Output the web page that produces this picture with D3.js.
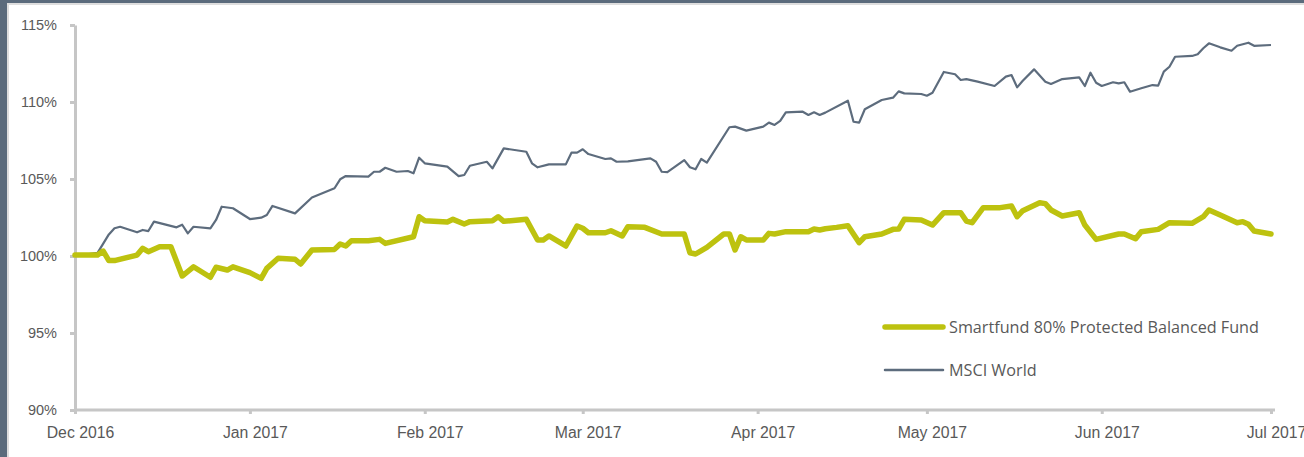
<html>
<head>
<script src="https://d3js.org/d3.v7.min.js"></script>
<style>
  body { margin: 0; background: #fff; }
  svg { display: block; font-family: "Open Sans", sans-serif; }
</style>
</head>
<body>
<script>
// values (index, 100 = start)
const yTicks = [90, 95, 100, 105, 110, 115];
const xTicks = ["2016-12-01", "2017-01-01", "2017-02-01", "2017-03-01", "2017-04-01",
  "2017-05-01", "2017-06-01", "2017-07-01"];
const seriesNames = ["Smartfund 80% Protected Balanced Fund", "MSCI World"];

const msciDates = ["2016-12-01","2016-12-05","2016-12-06","2016-12-07","2016-12-08","2016-12-09",
  "2016-12-12","2016-12-13","2016-12-14","2016-12-15","2016-12-19","2016-12-20","2016-12-21",
  "2016-12-22","2016-12-25","2016-12-26","2016-12-27","2016-12-29","2017-01-01","2017-01-03",
  "2017-01-04","2017-01-05","2017-01-09","2017-01-12","2017-01-16","2017-01-17","2017-01-18",
  "2017-01-22","2017-01-23","2017-01-24","2017-01-25","2017-01-27","2017-01-29","2017-01-30",
  "2017-01-31","2017-02-01","2017-02-05","2017-02-07","2017-02-08","2017-02-09","2017-02-12",
  "2017-02-13","2017-02-15","2017-02-19","2017-02-20","2017-02-21","2017-02-23","2017-02-26",
  "2017-02-27","2017-02-28","2017-03-01","2017-03-02","2017-03-05","2017-03-06","2017-03-07",
  "2017-03-09","2017-03-13","2017-03-14","2017-03-15","2017-03-16","2017-03-19","2017-03-20",
  "2017-03-21","2017-03-22","2017-03-23","2017-03-27","2017-03-28","2017-03-30","2017-04-02",
  "2017-04-03","2017-04-04","2017-04-05","2017-04-06","2017-04-09","2017-04-10","2017-04-11",
  "2017-04-12","2017-04-13","2017-04-17","2017-04-18","2017-04-19","2017-04-20","2017-04-23",
  "2017-04-25","2017-04-26","2017-04-27","2017-04-30","2017-05-01","2017-05-02","2017-05-04",
  "2017-05-06","2017-05-07","2017-05-08","2017-05-10","2017-05-13","2017-05-15","2017-05-16",
  "2017-05-17","2017-05-18","2017-05-20","2017-05-22","2017-05-23","2017-05-25","2017-05-28",
  "2017-05-29","2017-05-30","2017-05-31","2017-06-01","2017-06-03","2017-06-04","2017-06-05",
  "2017-06-06","2017-06-08","2017-06-10","2017-06-11","2017-06-12","2017-06-13","2017-06-14",
  "2017-06-17","2017-06-18","2017-06-19","2017-06-20","2017-06-22","2017-06-24","2017-06-25",
  "2017-06-27","2017-06-28","2017-07-01"];
const msciValues = [100.0,100.2,100.8,101.4,101.8,101.9,
  101.54,101.69,101.62,102.23,101.86,102.03,101.47,
  101.9,101.8,102.34,103.2,103.1,102.4,102.49,
  102.66,103.25,102.77,103.8,104.4,104.98,105.19,
  105.15,105.47,105.47,105.73,105.47,105.52,105.37,
  106.38,106.02,105.8,105.19,105.26,105.86,106.12,
  105.69,106.99,106.77,106.02,105.76,105.95,105.95,
  106.71,106.71,106.93,106.62,106.3,106.34,106.12,
  106.15,106.34,106.12,105.47,105.45,106.23,105.76,
  105.63,106.3,106.06,108.36,108.4,108.14,108.4,
  108.66,108.51,108.77,109.33,109.37,109.16,109.33,
  109.16,109.31,110.08,108.72,108.66,109.53,110.13,
  110.28,110.69,110.56,110.52,110.41,110.6,111.95,
  111.8,111.43,111.49,111.32,111.04,111.65,111.75,
  110.95,111.38,112.12,111.32,111.17,111.49,111.6,
  111.04,111.9,111.25,111.04,111.28,111.21,111.28,
  110.67,110.89,111.1,111.06,111.97,112.29,112.94,
  112.99,113.1,113.49,113.81,113.55,113.33,113.65,
  113.85,113.65,113.7];

const fundDates = ["2016-12-01","2016-12-05","2016-12-06","2016-12-07","2016-12-08","2016-12-12",
  "2016-12-13","2016-12-14","2016-12-16","2016-12-18","2016-12-20","2016-12-22","2016-12-25",
  "2016-12-26","2016-12-28","2016-12-29","2017-01-01","2017-01-03","2017-01-04","2017-01-06",
  "2017-01-09","2017-01-10","2017-01-12","2017-01-16","2017-01-17","2017-01-18","2017-01-19",
  "2017-01-22","2017-01-24","2017-01-25","2017-01-30","2017-01-31","2017-02-01","2017-02-05",
  "2017-02-06","2017-02-08","2017-02-09","2017-02-13","2017-02-14","2017-02-15","2017-02-19",
  "2017-02-21","2017-02-22","2017-02-23","2017-02-26","2017-02-28","2017-03-01","2017-03-02",
  "2017-03-05","2017-03-06","2017-03-08","2017-03-09","2017-03-12","2017-03-15","2017-03-19",
  "2017-03-20","2017-03-21","2017-03-23","2017-03-26","2017-03-27","2017-03-28","2017-03-29",
  "2017-03-30","2017-04-02","2017-04-03","2017-04-04","2017-04-06","2017-04-10","2017-04-11",
  "2017-04-12","2017-04-13","2017-04-15","2017-04-17","2017-04-19","2017-04-20","2017-04-23",
  "2017-04-25","2017-04-26","2017-04-27","2017-04-30","2017-05-02","2017-05-04","2017-05-07",
  "2017-05-08","2017-05-09","2017-05-11","2017-05-14","2017-05-16","2017-05-17","2017-05-18",
  "2017-05-21","2017-05-22","2017-05-23","2017-05-25","2017-05-28","2017-05-29","2017-05-31",
  "2017-06-04","2017-06-05","2017-06-07","2017-06-08","2017-06-11","2017-06-13","2017-06-17",
  "2017-06-19","2017-06-20","2017-06-22","2017-06-25","2017-06-26","2017-06-27","2017-06-28",
  "2017-07-01"];
const fundValues = [100.06,100.06,100.32,99.7,99.7,100.06,
  100.5,100.28,100.6,100.6,98.7,99.3,98.62,
  99.27,99.09,99.3,98.92,98.55,99.2,99.85,
  99.79,99.48,100.39,100.43,100.78,100.65,100.99,
  100.99,101.08,100.82,101.25,102.55,102.29,102.21,
  102.38,102.08,102.23,102.29,102.55,102.25,102.38,
  101.04,101.04,101.3,100.65,101.95,101.8,101.51,
  101.51,101.64,101.3,101.9,101.86,101.43,101.43,
  100.21,100.13,100.56,101.43,101.43,100.39,101.25,
  101.04,101.04,101.47,101.43,101.58,101.58,101.75,
  101.69,101.77,101.86,101.97,100.87,101.25,101.43,
  101.73,101.75,102.38,102.34,102.01,102.81,102.81,
  102.27,102.16,103.14,103.14,103.25,102.55,102.94,
  103.46,103.4,102.99,102.6,102.81,102.01,101.08,
  101.43,101.43,101.12,101.58,101.73,102.16,102.12,
  102.55,102.99,102.66,102.16,102.23,102.06,101.62,
  101.43];

const parse = d3.timeParse("%Y-%m-%d");
const msci = msciDates.map((d, i) => ({date: parse(d), value: msciValues[i]}));
const fund = fundDates.map((d, i) => ({date: parse(d), value: fundValues[i]}));

const W = 1304, H = 457;
const margin = {top: 25, right: 29, bottom: 47, left: 75};

const svg = d3.select("body").append("svg").attr("width", W).attr("height", H);

// frame of the page the chart sits in
svg.append("rect").attr("width", W).attr("height", H).attr("fill", "#fff");
svg.append("rect").attr("x", 0).attr("y", 3).attr("width", W).attr("height", 2).attr("fill", "#dedede");
svg.append("rect").attr("x", 7).attr("y", 0).attr("width", 2).attr("height", H).attr("fill", "#dedede");
svg.append("rect").attr("width", W).attr("height", 3).attr("fill", "#5b6b7c");
svg.append("rect").attr("width", 7).attr("height", H).attr("fill", "#5b6b7c");

const x = d3.scaleTime()
  .domain([parse(xTicks[0]), parse(xTicks[xTicks.length - 1])])
  .range([margin.left, W - margin.right - 4]);
const y = d3.scaleLinear().domain([90, 115]).range([H - margin.bottom, margin.top]);

const axisColor = "#c6c6c6";
const textColor = "#595959";

const yAxis = svg.append("g")
  .attr("transform", `translate(${margin.left},0)`)
  .call(d3.axisLeft(y).tickValues(yTicks).tickSize(5).tickSizeOuter(0).tickPadding(13)
    .tickFormat(d => d + "%"));

const xAxis = svg.append("g")
  .attr("transform", `translate(0,${H - margin.bottom})`)
  .call(d3.axisBottom(x).tickValues(xTicks.map(parse)).tickSize(4).tickSizeOuter(0).tickPadding(13)
    .tickFormat(d3.timeFormat("%b %Y")));
xAxis.select(".domain").attr("d", `M${margin.left},0H${W - margin.right}`);

[yAxis, xAxis].forEach(g => {
  g.select(".domain").attr("stroke", axisColor).attr("stroke-width", 3);
  g.selectAll(".tick line").attr("stroke", axisColor).attr("stroke-width", 3);
  g.selectAll(".tick text").attr("fill", textColor).style("font-size", "14.5px");
});
xAxis.selectAll(".tick text").attr("dx", 5).style("font-size", "15.8px");

const line = d3.line().x(d => x(d.date)).y(d => y(d.value));

svg.append("path").datum(msci)
  .attr("fill", "none").attr("stroke", "#5d6c7d").attr("stroke-width", 2.2)
  .attr("stroke-linejoin", "round").attr("d", line);

svg.append("path").datum(fund)
  .attr("fill", "none").attr("stroke", "#bdc20f").attr("stroke-width", 5.5)
  .attr("stroke-linejoin", "round").attr("stroke-linecap", "round").attr("d", line);

// legend
const legend = svg.append("g").attr("transform", "translate(885,327)");
const items = [
  {name: seriesNames[0], color: "#bdc20f", width: 5.5},
  {name: seriesNames[1], color: "#5d6c7d", width: 2.5}
];
items.forEach((it, i) => {
  const g = legend.append("g").attr("transform", `translate(0,${i * 43})`);
  g.append("line").attr("x1", 0).attr("x2", 58).attr("y1", 0).attr("y2", 0)
    .attr("stroke", it.color).attr("stroke-width", it.width).attr("stroke-linecap", "round");
  g.append("text").attr("x", 64).attr("y", 0).attr("dy", "0.35em")
    .attr("fill", textColor).style("font-size", "16.2px").text(it.name);
});
</script>
</body>
</html>
